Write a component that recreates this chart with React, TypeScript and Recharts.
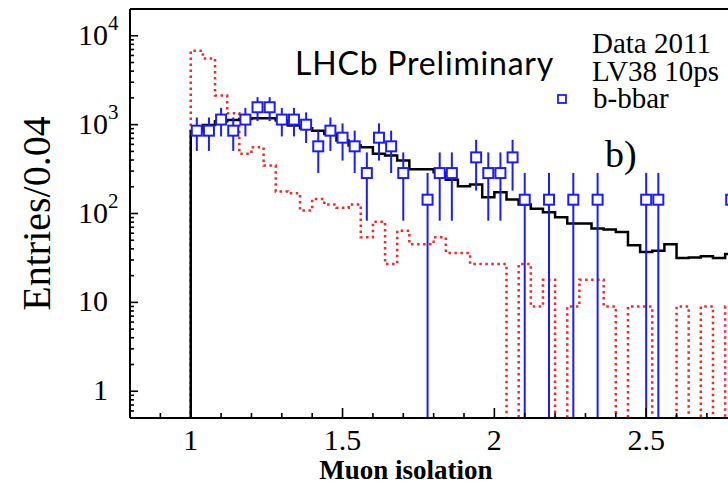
import {
  ComposedChart,
  Line,
  Scatter,
  ErrorBar,
  XAxis,
  YAxis,
  ReferenceLine,
} from "recharts";

// binning of the histograms (Entries/0.04)
const BIN_START = 1.0;
const BIN_WIDTH = 0.04;
const Y_MIN = 0.5;
const Y_MAX = 20000;
const FLOOR = 0.1; // empty bins: line drops below the axis

// black solid histogram, one value per bin starting at 1.00
const mcTotal = [
  840, 990, 1090, 1130, 1160, 1180, 1180, 1110, 975, 908, 856, 786, 661, 581,
  556, 469, 449, 394, 315, 315, 291, 240, 203, 212, 152, 173, 144, 126, 113,
  103, 91, 77, 77, 68, 66, 62, 44, 37, 38, 45, 31.5, 32, 33, 31.5, 35,
];

// red dotted histogram, 0 = empty bin
const mcSignal = [
  6780, 5560, 2120, 1340, 469, 556, 346, 177, 169, 108, 146, 126, 116, 126,
  54, 81, 27, 64, 45, 45, 54, 36, 36, 27, 27, 27, 0, 27, 9, 18, 0, 9, 18, 18,
  9, 0, 9, 9, 0, 0, 9, 0, 9, 0, 9,
];

// b-bbar data points (bin centres, entries, error)
const dataX = [
  1.02, 1.06, 1.1, 1.14, 1.18, 1.22, 1.26, 1.3, 1.34, 1.38, 1.42, 1.46, 1.5,
  1.54, 1.58, 1.62, 1.66, 1.7, 1.78, 1.82, 1.86, 1.94, 1.98, 2.02, 2.06, 2.1,
  2.18, 2.26, 2.34, 2.5, 2.54, 2.78,
];
const dataY = [
  855, 855, 1140, 855, 1140, 1568, 1568, 1140, 1140, 998, 570, 855, 713, 570,
  285, 713, 570, 285, 143, 285, 285, 428, 285, 285, 428, 143, 143, 143, 143,
  143, 143, 143,
];
const dataErr = [
  349, 349, 403, 349, 403, 473, 473, 403, 403, 377, 285, 349, 319, 285, 202,
  319, 285, 202, 143, 202, 202, 247, 202, 202, 247, 143, 143, 143, 143, 143,
  143, 143,
];

const xMajorTicks = [1, 1.5, 2, 2.5];
const xTickLabels = ["1", "1.5", "2", "2.5"];
const yMajorTicks = [1, 10, 100, 1000, 10000];
const yTickBase = ["1", "10", "10", "10", "10"];
const yTickExp = ["", "", "2", "3", "4"];

const SERIF = "'Liberation Serif', 'Times New Roman', serif";
const BLUE = "#1c1cff";
const RED = "#ff2424";

const edge = (i: number) => Number((BIN_START + i * BIN_WIDTH).toFixed(2));

// step histogram: rises from below the axis at the first edge
const toSteps = (values: number[]) => [
  { x: edge(0), y: FLOOR },
  ...values.map((v, i) => ({ x: edge(i), y: v > 0 ? v : FLOOR })),
  { x: edge(values.length), y: values[values.length - 1] || FLOOR },
];

const totalSteps = toSteps(mcTotal);
const signalSteps = toSteps(mcSignal);

// lower error bars stop at the frame when they reach zero
const points = dataX.map((x, i) => ({
  x,
  y: dataY[i],
  err: [Math.min(dataErr[i], dataY[i] - Y_MIN), dataErr[i]],
}));

const xTicks: number[] = [];
for (let i = 9; i <= 29; i++) xTicks.push(i / 10);

const yTicks: number[] = [];
for (const dec of [0.1, 1, 10, 100, 1000, 10000]) {
  for (let k = 1; k <= 9; k++) {
    const v = Number((k * dec).toPrecision(3));
    if (v >= Y_MIN && v < Y_MAX) yTicks.push(v);
  }
}

function XTick(props: any) {
  const x = Number(props.x);
  const y = Number(props.y);
  const idx = xMajorTicks.findIndex((m) => Math.abs(m - props.payload.value) < 1e-6);
  const major = idx >= 0;
  return (
    <g>
      <path d={`M${x},${y}V${y - (major ? 10 : 5)}`} stroke="#000" strokeWidth={1.6} fill="none" />
      {major && (
        <text x={x} y={y + 32} textAnchor="middle" fontFamily={SERIF} fontSize={30} fill="#000">
          {xTickLabels[idx]}
        </text>
      )}
    </g>
  );
}

function YTick(props: any) {
  const x = Number(props.x);
  const y = Number(props.y);
  const idx = yMajorTicks.findIndex((m) => Math.abs(m - props.payload.value) < 1e-6);
  const major = idx >= 0;
  return (
    <g>
      <path d={`M${x},${y}H${x + (major ? 8 : 4)}`} stroke="#000" strokeWidth={1.6} fill="none" />
      {major && (
        <>
          <text x={x - 22} y={y + 9} textAnchor="end" fontFamily={SERIF} fontSize={30} fill="#000">
            {yTickBase[idx]}
          </text>
          {yTickExp[idx] && (
            <text x={x - 22} y={y - 6} textAnchor="start" fontFamily={SERIF} fontSize={21} fill="#000">
              {yTickExp[idx]}
            </text>
          )}
        </>
      )}
    </g>
  );
}

const Square = ({ cx, cy }: any) => (
  <rect x={cx - 5} y={cy - 5} width={10} height={10} fill="#fff" stroke={BLUE} strokeWidth={2} />
);

export default function App() {
  return (
    <div
      style={{
        position: "fixed",
        left: 0,
        top: 0,
        width: 728,
        height: 489,
        overflow: "hidden",
        background: "#fff",
      }}
    >
      <ComposedChart width={810} height={489} margin={{ top: 9, right: 12, left: 0, bottom: 0 }}>
        <XAxis
          dataKey="x"
          type="number"
          domain={[0.8, 3.0]}
          allowDataOverflow
          ticks={xTicks}
          interval={0}
          tick={<XTick />}
          tickLine={false}
          tickSize={0}
          tickMargin={0}
          height={71}
          axisLine={{ stroke: "#000", strokeWidth: 2 }}
          label={(props: any) => {
            const vb = props.viewBox;
            return (
              <text
                x={vb.x + 276}
                y={vb.y + 61}
                textAnchor="middle"
                fontFamily={SERIF}
                fontWeight="bold"
                fontSize={27}
                fill="#000"
              >
                Muon isolation
              </text>
            );
          }}
        />
        <YAxis
          type="number"
          scale="log"
          domain={[Y_MIN, Y_MAX]}
          allowDataOverflow
          ticks={yTicks}
          interval={0}
          tick={<YTick />}
          tickLine={false}
          tickSize={0}
          tickMargin={0}
          width={130}
          axisLine={{ stroke: "#000", strokeWidth: 2 }}
          label={(props: any) => {
            const vb = props.viewBox;
            const cx = vb.x + 50;
            const cy = vb.y + vb.height / 2;
            return (
              <text
                x={cx}
                y={cy}
                transform={`rotate(-90, ${cx}, ${cy})`}
                textAnchor="middle"
                fontFamily={SERIF}
                fontSize={40}
                fill="#000"
              >
                Entries/0.04
              </text>
            );
          }}
        />
        <ReferenceLine y={Y_MAX} stroke="#000" strokeWidth={2} />
        <Line
          data={signalSteps}
          dataKey="y"
          type="stepAfter"
          stroke={RED}
          strokeWidth={2.5}
          strokeDasharray="2.5 3.5"
          dot={false}
          activeDot={false}
          isAnimationActive={false}
        />
        <Line
          data={totalSteps}
          dataKey="y"
          type="stepAfter"
          stroke="#000"
          strokeWidth={2.5}
          dot={false}
          activeDot={false}
          isAnimationActive={false}
        />
        <Scatter data={points} dataKey="y" shape={<Square />} isAnimationActive={false}>
          <ErrorBar dataKey="err" direction="y" width={0} stroke={BLUE} strokeWidth={2} />
        </Scatter>
      </ComposedChart>

      <svg
        width={728}
        height={489}
        style={{ position: "absolute", left: 0, top: 0, pointerEvents: "none" }}
      >
        <text
          x={295}
          y={75}
          fontFamily="Lato, 'Open Sans', sans-serif"
          fontSize={32}
          letterSpacing={0.8}
          fill="#000"
        >
          LHCb Preliminary
        </text>
        <text x={592} y={53} fontFamily={SERIF} fontSize={29} fill="#000">
          Data 2011
        </text>
        <text x={592} y={81} fontFamily={SERIF} fontSize={29} fill="#000">
          LV38 10ps
        </text>
        <rect x={558} y={95} width={8} height={8} fill="#fff" stroke={BLUE} strokeWidth={1.8} />
        <text x={593} y={108} fontFamily={SERIF} fontSize={29} fill="#000">
          b-bbar
        </text>
        <text x={605} y={167} fontFamily={SERIF} fontSize={38} fill="#000">
          b)
        </text>
      </svg>
    </div>
  );
}
